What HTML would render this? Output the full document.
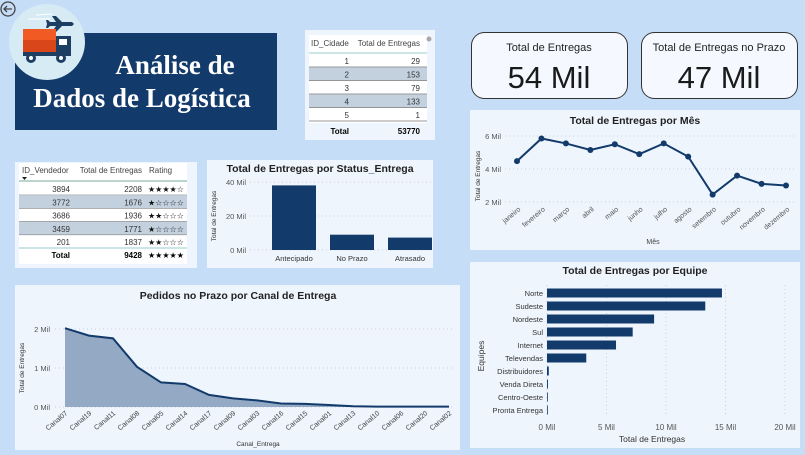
<!DOCTYPE html>
<html><head><meta charset="utf-8">
<style>
html,body{margin:0;padding:0;background:#c6ddf8;}
body{width:805px;height:450px;overflow:hidden;position:relative;font-family:"Liberation Sans","DejaVu Sans",sans-serif;}
svg text{font-family:"Liberation Sans","DejaVu Sans",sans-serif;}
</style></head>
<body>
<svg id="dash" width="805" height="450" viewBox="0 0 805 450" xmlns="http://www.w3.org/2000/svg">
  <rect x="0" y="0" width="805" height="450" fill="#c6ddf8"/>
  <g>
    <rect x="15" y="33" width="262" height="97" fill="#123a6b"/>
    <text x="175" y="74" text-anchor="middle" fill="#fff" font-weight="bold" font-size="27" style="font-family:'Liberation Serif',serif">Análise de</text>
    <text x="142" y="107" text-anchor="middle" fill="#fff" font-weight="bold" font-size="27" style="font-family:'Liberation Serif',serif">Dados de Logística</text>
  </g>
  <g>
    <circle cx="47" cy="42" r="38" fill="#d7ebf5"/>
    <path d="M52 16 l4 0 l6 6 l10 0 l2 2 l-2 2 l-10 0 l-6 6 l-4 0 l4 -6 l-6 0 l-2 2 l-2 0 l1 -4 l-1 -4 l2 0 l2 2 l6 0 z" fill="#1d3e63"/>
    <line x1="36" y1="15" x2="52" y2="14" stroke="#fff" stroke-width="1"/>
    <line x1="28" y1="19" x2="50" y2="19" stroke="#fff" stroke-width="1"/>
    <rect x="23" y="29" width="33" height="25" fill="#f15a22"/>
    <rect x="23" y="40" width="33" height="14" fill="#d9461a"/>
    <rect x="56" y="36" width="15" height="18" fill="#1d3e63"/>
    <rect x="59" y="39" width="8" height="6" fill="#fff"/>
    <rect x="23" y="52" width="48" height="4" fill="#1d3e63"/>
    <circle cx="31" cy="58" r="5" fill="#1d3e63"/><circle cx="31" cy="58" r="2" fill="#fff"/>
    <circle cx="61" cy="58" r="5" fill="#1d3e63"/><circle cx="61" cy="58" r="2" fill="#fff"/>
  </g>
  <g>
    <circle cx="8" cy="9" r="7" fill="none" stroke="#444" stroke-width="1.3"/>
    <path d="M12 9 H4 M7 6 L4 9 L7 12" fill="none" stroke="#444" stroke-width="1.3"/>
  </g>

  <g font-size="8" fill="#333">
    <rect x="305" y="30" width="130" height="110" fill="#eef5fd"/>
    <rect x="309" y="35" width="118" height="100" fill="#fff"/>
    <text x="311" y="46" fill="#444">ID_Cidade</text>
    <text x="420" y="46" text-anchor="end" fill="#444">Total de Entregas</text>
    <line x1="309" y1="53" x2="427" y2="53" stroke="#9cc" stroke-width="1"/>
    <g id="cityRows"></g>
    <rect x="309" y="123" width="118" height="12" fill="#eef5fd"/>
    <text x="349" y="134" text-anchor="end" font-weight="bold" fill="#000">Total</text>
    <text x="420" y="134" text-anchor="end" font-weight="bold" fill="#000">53770</text>
    <circle cx="429" cy="39" r="2.5" fill="#aaa"/>
  </g>

  <g>
    <rect x="471.5" y="32.5" width="156" height="66" rx="13" fill="#f5f9ff" stroke="#333" stroke-width="1"/>
    <text x="549" y="51" text-anchor="middle" font-size="11" fill="#222">Total de Entregas</text>
    <text x="549" y="88" text-anchor="middle" font-size="31" fill="#1a1a1a">54 Mil</text>
  </g>
  <g>
    <rect x="641.5" y="32.5" width="156" height="66" rx="13" fill="#f5f9ff" stroke="#333" stroke-width="1"/>
    <text x="719" y="51" text-anchor="middle" font-size="11" fill="#222">Total de Entregas no Prazo</text>
    <text x="719" y="88" text-anchor="middle" font-size="31" fill="#1a1a1a">47 Mil</text>
  </g>

  <g>
    <rect x="470" y="110" width="330" height="140" fill="#eef5fd"/>
    <text x="635" y="124" text-anchor="middle" font-size="10.5" font-weight="bold" fill="#222">Total de Entregas por Mês</text>
    <text transform="translate(480,176) rotate(-90)" text-anchor="middle" font-size="6.5" fill="#333">Total de Entregas</text>
    <text x="653" y="244" text-anchor="middle" font-size="7" fill="#444">Mês</text>
    <g id="monthG"></g>
  </g>

  <g font-size="8" fill="#333">
    <rect x="15" y="162" width="182" height="106" fill="#eef5fd"/>
    <rect x="19" y="163" width="168" height="101" fill="#fff"/>
    <text x="22" y="173" fill="#444">ID_Vendedor</text>
    <path d="M22 177 h5 l-2.5 3 z" fill="#222"/>
    <text x="142" y="173" text-anchor="end" fill="#444">Total de Entregas</text>
    <text x="149" y="173" fill="#444">Rating</text>
    <line x1="19" y1="181" x2="187" y2="181" stroke="#7a9" stroke-width="1"/>
    <g id="vendRows"></g>
    <line x1="19" y1="248" x2="187" y2="248" stroke="#9cc" stroke-width="1"/>
    <text x="70" y="258" text-anchor="end" font-weight="bold" fill="#000">Total</text>
    <text x="142" y="258" text-anchor="end" font-weight="bold" fill="#000">9428</text>
    <text x="148" y="258" font-weight="bold" fill="#000" font-size="8">★★★★★</text>
  </g>

  <g>
    <rect x="207" y="160" width="226" height="108" fill="#eef5fd"/>
    <text x="320" y="172" text-anchor="middle" font-size="10.5" font-weight="bold" fill="#222">Total de Entregas por Status_Entrega</text>
    <text transform="translate(216,216) rotate(-90)" text-anchor="middle" font-size="6.5" fill="#333">Total de Entregas</text>
    <g id="statusG"></g>
  </g>

  <g>
    <rect x="15" y="285" width="445" height="165" fill="#eef5fd"/>
    <text x="238" y="299" text-anchor="middle" font-size="10.5" font-weight="bold" fill="#222">Pedidos no Prazo por Canal de Entrega</text>
    <text transform="translate(24,368) rotate(-90)" text-anchor="middle" font-size="6.5" fill="#333">Total de Entregas</text>
    <text x="258" y="446" text-anchor="middle" font-size="6.5" fill="#333">Canal_Entrega</text>
    <g id="canalG"></g>
  </g>

  <g>
    <rect x="470" y="262" width="330" height="186" fill="#eef5fd"/>
    <text x="635" y="274" text-anchor="middle" font-size="10.5" font-weight="bold" fill="#222">Total de Entregas por Equipe</text>
    <text transform="translate(484,356) rotate(-90)" text-anchor="middle" font-size="8.5" fill="#333">Equipes</text>
    <text x="652" y="442" text-anchor="middle" font-size="8.5" fill="#333">Total de Entregas</text>
    <g id="equipeG"></g>
  </g>
</svg>
<script>
const NS="http://www.w3.org/2000/svg";
const cityIds=["1","2","3","4","5"];
const cityTotals=[29,153,79,133,1];
const vendIds=[3894,3772,3686,3459,201];
const vendTotals=[2208,1676,1936,1771,1837];
const vendRatings=[4,1,2,1,2];
const months=["janeiro","fevereiro","março","abril","maio","junho","julho","agosto","setembro","outubro","novembro","dezembro"];
const monthValues=[4.48,5.85,5.55,5.15,5.5,4.9,5.55,4.75,2.45,3.6,3.1,3.0];
const monthTicks=[2,4,6];
const statusCats=["Antecipado","No Prazo","Atrasado"];
const statusValues=[38,9,7.3];
const statusTicks=[0,20,40];
const canalCats=["Canal07","Canal19","Canal11","Canal08","Canal05","Canal14","Canal17","Canal09","Canal03","Canal16","Canal15","Canal01","Canal13","Canal10","Canal06","Canal20","Canal02"];
const canalValues=[2.02,1.83,1.76,1.03,0.63,0.59,0.31,0.22,0.17,0.09,0.08,0.05,0.02,0.01,0.01,0.01,0.01];
const canalTicks=[0,1,2];
const equipeCats=["Norte","Sudeste","Nordeste","Sul","Internet","Televendas","Distribuidores","Venda Direta","Centro-Oeste","Pronta Entrega"];
const equipeValues=[14.7,13.3,9.0,7.2,5.8,3.3,0.15,0.08,0.03,0.02];
const equipeTicks=[0,5,10,15,20];

function el(tag,attrs,parent,txt){const e=document.createElementNS(NS,tag);for(const k in attrs)e.setAttribute(k,attrs[k]);if(txt!=null)e.textContent=txt;parent.appendChild(e);return e;}

(function(){const g=document.getElementById('cityRows');
cityIds.forEach((id,i)=>{const y=54+i*13.5;
 const r=el('rect',{x:309,y:y,width:118,height:13,fill:i%2?'#c3d1df':'#fff'},g);
 
 
 el('line',{x1:309,y1:y+13,x2:427,y2:y+13,stroke:'#777','stroke-width':0.7},g);
 el('text',{x:349,y:y+10,'text-anchor':'end','font-size':8,fill:'#333'},g,id);
 el('text',{x:420,y:y+10,'text-anchor':'end','font-size':8,fill:'#333'},g,cityTotals[i]);});})();

(function(){const g=document.getElementById('vendRows');
vendIds.forEach((id,i)=>{const y=182+i*13.3;
 const r=el('rect',{x:19,y:y,width:168,height:13,fill:i%2?'#c3d1df':'#fff'},g);
 
 
 el('line',{x1:19,y1:y+13,x2:187,y2:y+13,stroke:'#666','stroke-width':0.6},g);
 el('text',{x:70,y:y+10,'text-anchor':'end','font-size':8,fill:'#333'},g,id);
 el('text',{x:142,y:y+10,'text-anchor':'end','font-size':8,fill:'#333'},g,vendTotals[i]);
 const s='★'.repeat(vendRatings[i])+'☆'.repeat(5-vendRatings[i]);
 el('text',{x:148,y:y+10,'font-size':8,fill:'#111'},g,s);});})();

(function(){const g=document.getElementById('monthG');
const x0=517,x1=786,yv=v=>202-(v-2)*16.5;const xi=i=>x0+i*(x1-x0)/(months.length-1);
monthTicks.forEach(t=>{el('line',{x1:505,y1:yv(t),x2:795,y2:yv(t),stroke:'#ccd','stroke-dasharray':'1,3'},g);
 el('text',{x:501,y:yv(t)+3,'text-anchor':'end','font-size':7.5,fill:'#555'},g,t+' Mil');});
const pts=monthValues.map((v,i)=>xi(i)+','+yv(v)).join(' ');
const pl=el('polyline',{points:pts,fill:'none',stroke:'#123a6b','stroke-width':2},g);


monthValues.forEach((v,i)=>{const c=el('circle',{cx:xi(i),cy:yv(v),r:3,fill:'#123a6b'},g);
 
 
 el('text',{transform:`translate(${xi(i)+4},${210}) rotate(-40)`,'text-anchor':'end','font-size':7,fill:'#555'},g,months[i]);});})();

(function(){const g=document.getElementById('statusG');
const y0=250,yv=v=>y0-v*1.7;
statusTicks.forEach(t=>{el('line',{x1:250,y1:yv(t),x2:432,y2:yv(t),stroke:'#ccd','stroke-dasharray':'1,3'},g);
 el('text',{x:246,y:yv(t)+3,'text-anchor':'end','font-size':7.5,fill:'#555'},g,t+' Mil');});
statusCats.forEach((c,i)=>{const cx=294+i*58;
 const b=el('rect',{x:cx-22,y:yv(statusValues[i]),width:44,height:y0-yv(statusValues[i]),fill:'#123a6b'},g);
 
 
 el('text',{x:cx,y:261,'text-anchor':'middle','font-size':7.5,fill:'#333'},g,c);});})();

(function(){const g=document.getElementById('canalG');
const y0=407,yv=v=>y0-v*39;const xi=i=>65+i*24;
canalTicks.forEach(t=>{el('line',{x1:55,y1:yv(t),x2:455,y2:yv(t),stroke:'#ccd','stroke-dasharray':'1,3'},g);
 el('text',{x:50,y:yv(t)+3,'text-anchor':'end','font-size':7.5,fill:'#555'},g,t+' Mil');});
const pts=canalValues.map((v,i)=>xi(i)+','+yv(v));
const a=el('polygon',{points:xi(0)+','+y0+' '+pts.join(' ')+' '+xi(canalValues.length-1)+','+y0,fill:'#94a9c3'},g);


const l=el('polyline',{points:pts.join(' '),fill:'none',stroke:'#123a6b','stroke-width':2},g);


canalCats.forEach((c,i)=>{el('text',{transform:`translate(${xi(i)+3},${414}) rotate(-40)`,'text-anchor':'end','font-size':7,fill:'#444'},g,c);});})();

(function(){const g=document.getElementById('equipeG');
const x0=547,xv=v=>x0+v*11.9;
equipeTicks.forEach(t=>{el('line',{x1:xv(t),y1:285,x2:xv(t),y2:416,stroke:'#ccd','stroke-dasharray':'1,3'},g);
 el('text',{x:xv(t),y:430,'text-anchor':'middle','font-size':8,fill:'#555'},g,t+' Mil');});
equipeCats.forEach((c,i)=>{const y=293+i*13;
 const b=el('rect',{x:x0,y:y-4.5,width:Math.max(0.8,xv(equipeValues[i])-x0),height:9,fill:'#123a6b'},g);
 
 
 el('text',{x:543,y:y+3,'text-anchor':'end','font-size':7.5,fill:'#333'},g,c);});})();
</script>
</body></html>
